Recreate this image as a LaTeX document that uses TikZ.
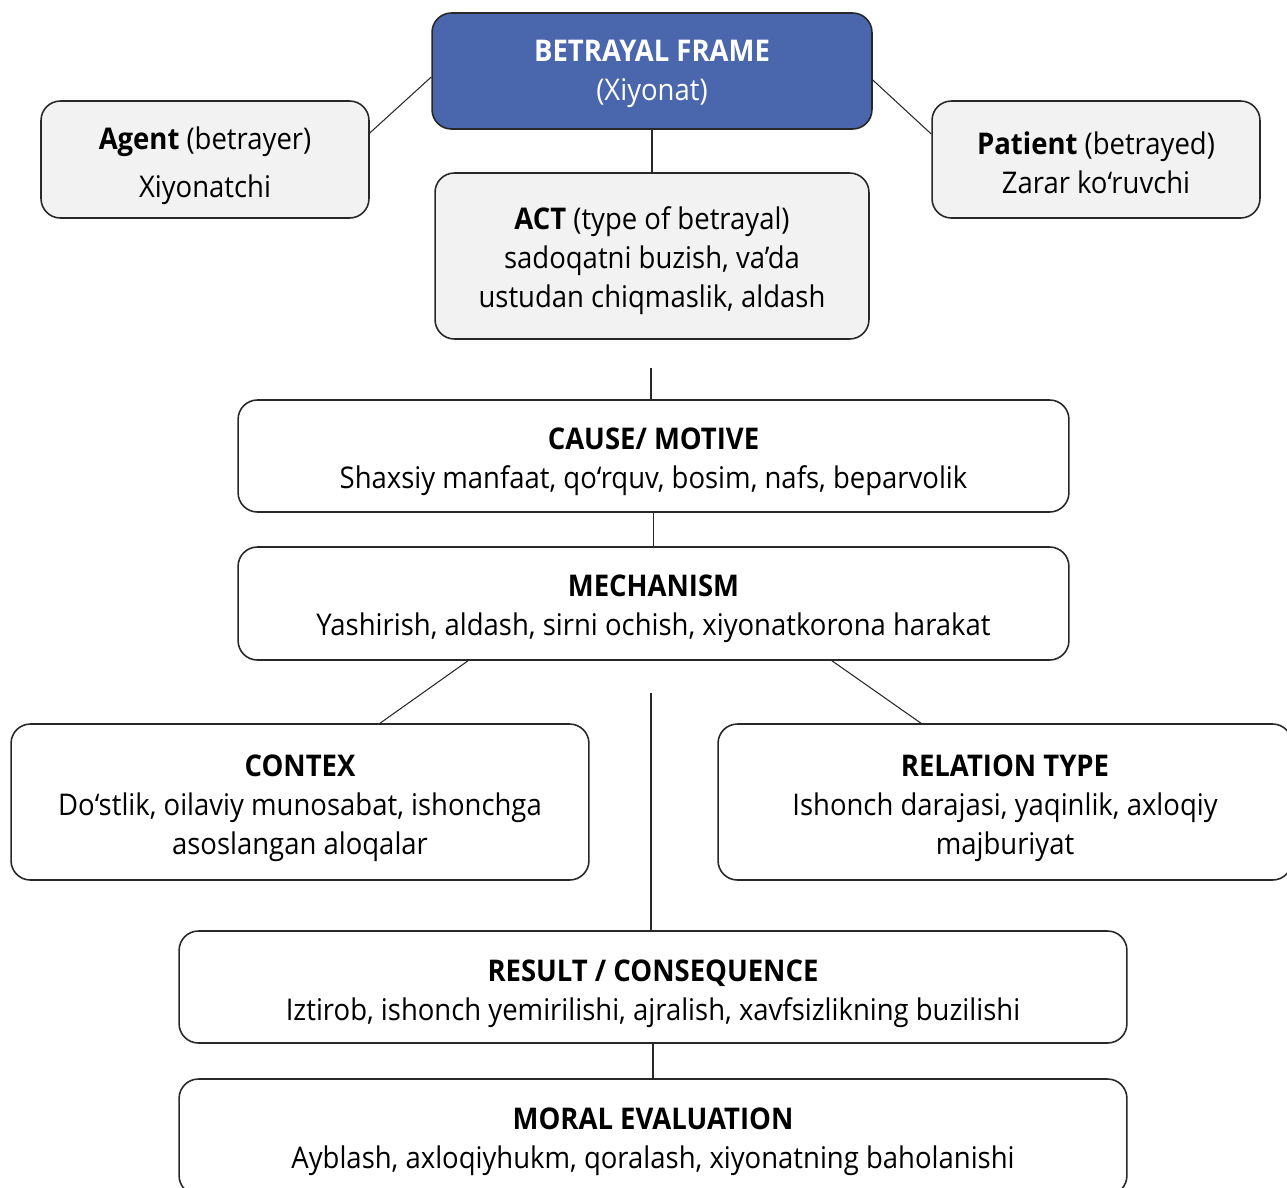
\documentclass[tikz,border=0pt]{standalone}
\usepackage{fontspec}
\setmainfont{Open Sans}[FakeStretch=0.92]
\definecolor{frameblue}{RGB}{74,102,172}
\definecolor{lightgray}{RGB}{242,242,242}
\definecolor{edgegray}{RGB}{40,40,40}
\tikzset{
  box/.style={draw=edgegray, line width=0.9pt, rounded corners=11pt, inner sep=0pt},
  graybox/.style={box, fill=lightgray},
  whitebox/.style={box, fill=white},
  bluebox/.style={box, fill=frameblue},
  txt/.style={align=center, inner sep=0pt, font=\fontsize{17}{22.2}\selectfont, text=black},
  bluetxt/.style={txt, text=white},
  conn/.style={draw=edgegray, line width=0.6pt}
}
\begin{document}
\begin{tikzpicture}[x=0.02cm,y=-0.02cm]
\useasboundingbox (0,0) rectangle (1287,1187);
\clip (0,0) rectangle (1287,1187);
% boxes
\node[bluebox, minimum width=8.8cm, minimum height=2.32cm] (top) at (652,71) {};
\node[graybox, minimum width=6.56cm, minimum height=2.34cm] (agent) at (205,159.5) {};
\node[graybox, minimum width=6.56cm, minimum height=2.34cm] (patient) at (1096,159.5) {};
\node[graybox, minimum width=8.68cm, minimum height=3.32cm] (act) at (652,256) {};
\node[whitebox, minimum width=16.62cm, minimum height=2.24cm] (cause) at (653.5,456) {};
\node[whitebox, minimum width=16.62cm, minimum height=2.26cm] (mech) at (653.5,603.5) {};
\node[whitebox, minimum width=11.56cm, minimum height=3.12cm] (contex) at (300,802) {};
\node[whitebox, minimum width=11.48cm, minimum height=3.12cm] (rel) at (1005,802) {};
\node[whitebox, minimum width=18.96cm, minimum height=2.24cm] (result) at (653,987) {};
\node[whitebox, minimum width=18.96cm, minimum height=2.32cm] (moral) at (653,1137) {};
% texts
\node[bluetxt] (top-t) at ([yshift=-0.06cm]top.center)
  {\textbf{BETRAYAL FRAME}\\(Xiyonat)};
\node[txt] (agent-t) at ([yshift=-0.13cm]agent.center)
  {\textbf{Agent} (betrayer)\\[5pt]Xiyonatchi};
\node[txt] (patient-t) at ([yshift=-0.06cm]patient.center)
  {\textbf{Patient} (betrayed)\\Zarar ko‘ruvchi};
\node[txt] (act-t) at ([yshift=-0.1cm]act.center)
  {\textbf{ACT} (type of betrayal)\\sadoqatni buzish, va’da\\ustudan chiqmaslik, aldash};
\node[txt] (cause-t) at ([yshift=-0.12cm]cause.center)
  {\textbf{CAUSE/ MOTIVE}\\Shaxsiy manfaat, qo‘rquv, bosim, nafs, beparvolik};
\node[txt] (mech-t) at ([yshift=-0.1cm]mech.center)
  {\textbf{MECHANISM}\\Yashirish, aldash, sirni ochish, xiyonatkorona harakat};
\node[txt] (contex-t) at ([yshift=-0.12cm]contex.center)
  {\textbf{CONTEX}\\Do‘stlik, oilaviy munosabat, ishonchga\\asoslangan aloqalar};
\node[txt] (rel-t) at ([yshift=-0.12cm]rel.center)
  {\textbf{RELATION TYPE}\\Ishonch darajasi, yaqinlik, axloqiy\\majburiyat};
\node[txt] (result-t) at ([yshift=-0.14cm]result.center)
  {\textbf{RESULT / CONSEQUENCE}\\Iztirob, ishonch yemirilishi, ajralish, xavfsizlikning buzilishi};
\node[txt] (moral-t) at ([yshift=-0.1cm]moral.center)
  {\textbf{MORAL EVALUATION}\\Ayblash, axloqiyhukm, qoralash, xiyonatning baholanishi};
% connectors
\coordinate (c1) at (651,368);
\coordinate (c2) at (651,693);
\draw[conn] (top.south) -- (act.north);
\draw[conn] ([yshift=0.53cm]agent.east) -- ([yshift=-0.12cm]top.west);
\draw[conn] ([yshift=-0.18cm]top.east) -- ([yshift=0.51cm]patient.west);
\draw[conn] (c1) -- (c1 |- cause.north);
\draw[conn] (cause.south) -- (mech.north);
\draw[conn] ([xshift=-3.71cm]mech.south) -- ([xshift=1.6cm]contex.north);
\draw[conn] ([xshift=3.57cm]mech.south) -- ([xshift=-1.68cm]rel.north);
\draw[conn] (c2) -- (c2 |- result.north);
\draw[conn] (result.south) -- (moral.north);
\end{tikzpicture}
\end{document}
